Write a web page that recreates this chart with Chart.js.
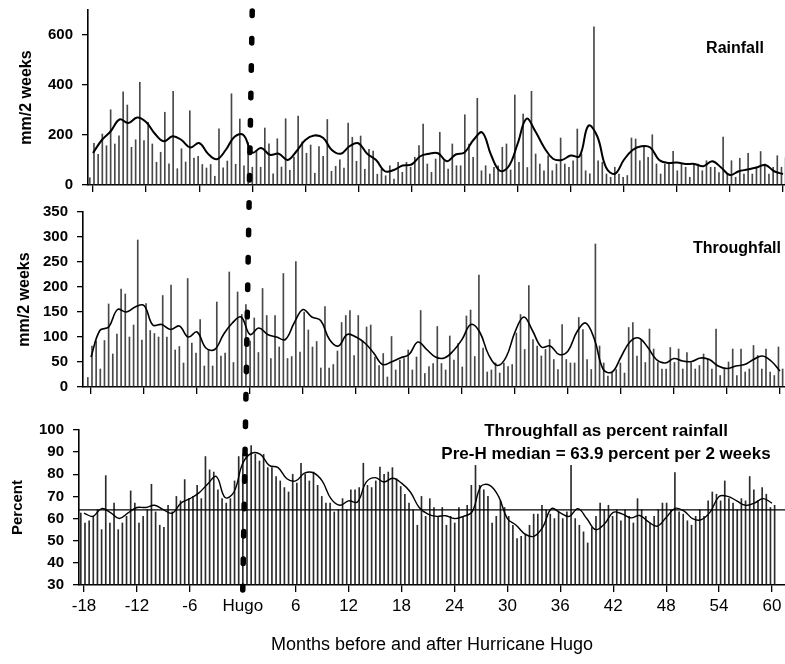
<!DOCTYPE html>
<html><head><meta charset="utf-8">
<script src="https://cdn.jsdelivr.net/npm/chart.js@4.4.1/dist/chart.umd.min.js"></script>
<style>
html,body{margin:0;padding:0;background:#fff;}
#wrap{position:relative;width:785px;height:664px;overflow:hidden;}
canvas{position:absolute;left:0;top:0;}
</style></head><body>
<div id="wrap">
<canvas id="c1" width="785" height="664"></canvas>
<canvas id="c2" width="785" height="664"></canvas>
<canvas id="c3" width="785" height="664"></canvas>
</div>
<script>
// ---------- data ----------
const monthTicks = [-18,-12,-6,0,6,12,18,24,30,36,42,48,54,60];
const hurricaneMonth = 0;
const hurricaneLabel = 'Hugo';
const firstPeriodMonth = -18.36;   // first 2-week sampling period
const periodStep = 0.471;          // months between sampling periods

const rainfall = [
 29,167,123,204,157,301,164,197,373,320,
 151,181,411,178,251,164,91,131,291,85,
 375,65,145,92,297,108,115,82,68,82,
 35,225,69,96,365,83,264,77,170,71,
 138,71,228,165,45,185,72,265,59,112,
 276,173,127,160,47,154,115,262,55,75,
 101,68,248,191,95,196,63,143,136,43,
 63,37,77,24,91,51,91,71,111,158,
 244,84,51,104,211,97,64,164,77,77,
 281,164,111,347,57,77,44,71,77,151,
 164,60,360,91,284,70,375,124,84,57,
 117,57,84,188,84,71,97,224,124,57,
 45,633,97,91,44,31,71,44,31,38,
 188,184,97,151,111,201,84,44,84,91,
 135,57,84,71,31,84,84,57,97,71,
 71,50,192,44,97,31,107,44,127,44,
 71,134,84,44,71,117,71,110
];
const throughfall = [
 19,82,92,36,93,166,66,106,196,186,
 100,124,294,94,167,113,107,100,183,100,
 204,74,81,48,217,88,68,135,42,75,
 42,170,62,68,230,49,190,145,165,92,
 138,69,197,143,57,143,80,227,57,61,
 251,70,150,114,80,91,38,161,38,45,
 72,129,143,153,63,143,93,120,124,60,
 43,67,20,101,34,54,57,74,34,60,
 153,27,
 41,47,121,47,34,102,54,87,40,142,
 154,61,224,78,30,34,48,28,48,41,
 45,108,145,75,203,95,82,62,75,95,
 55,35,125,55,48,48,139,115,55,35,
 286,82,48,22,28,35,48,28,119,129,
 62,95,49,116,76,49,36,36,79,49,
 76,36,69,49,36,43,66,56,36,116,
 23,36,50,76,23,76,30,36,83,63,
 36,76,30,23,80,36
];
const percentOfRain = [
 62.5,58,59,61,64,55,79.4,58,67,55,
 58,61,72.5,67,58,61,64,75.5,63,57,
 56,66,63,70,68,77.6,69,70,75,69,
 88,82,81,73,69,67,69,77,88,89,
 89.5,93,89,86,89,83,83,79,77,74,
 72,80,76,85,80,77,81,75,70,67,
 67,63,64,69,64,73,73,74,85,75,
 74,
 77,83.2,80,81,83,78,74.5,71,67,64,
 57,70,61,69,65,61,65,57,61,58,
 65,61,66,75,84,75,73,70,58,61,
 68,65,61,57,51,52,53,57,62,62,
 66,64,62,60,63,60,63,84,60,57,
 54,49,56,61,67,64,66,61,64,59,
 64,61,58,69,64,61,58,61,64,67,
 67,64,80.8,63,62,59,57,61,64,61,
 68,72,71,68,77,69,67,64,69,68,
 79,73,68,74,71,65,66
];

// smoothed curves, one value per month from -18 to 60
const smoothMonths = [
 -18,-17,-16,-15,-14,-13,-12,-11,-10,-9,
 -8,-7,-6,-5,-4,-3,-2,-1,0,1,
 2,3,4,5,6,7,8,9,10,11,
 12,13,14,15,16,17,18,19,20,21,
 22,23,24,25,26,27,28,29,30,31,
 32,33,34,35,36,37,38,39,40,41,
 42,43,44,45,46,47,48,49,50,51,
 52,53,54,55,56,57,58,59,60
];
const rainSmooth = [
 128,180,215,262,248,270,252,205,175,195,
 180,150,168,125,103,140,193,200,130,148,
 121,125,100,135,180,198,189,140,125,155,
 167,125,100,55,60,78,82,115,125,127,
 95,122,130,180,210,120,57,75,165,265,
 215,150,105,100,118,115,237,195,70,45,
 100,140,155,150,100,88,90,84,84,75,
 95,70,40,55,62,70,80,55,44
];
const throughSmooth = [
 60,113,120,155,150,160,163,124,125,115,
 122,100,110,78,75,105,128,140,105,118,
 105,100,95,128,155,140,133,95,82,105,
 100,88,68,45,50,58,65,90,75,60,
 58,72,95,125,110,65,43,60,110,140,
 112,80,82,65,72,110,128,95,35,30,
 60,90,98,80,55,48,57,52,51,58,
 55,42,37,42,45,55,62,52,32
];
const percentSmooth = [
 62.5,61,64.5,62.7,60,62.6,65,65,66,64,
 62.4,67,69,71.5,75.5,79,69.5,72,85,89.5,
 89,84,83,78,77,80.5,80.7,77,69,66,
 68,67.5,76.5,78.5,76.5,78.2,76,72,65,62,
 61,61.3,60,61,63,74.5,75,70,60,57,
 53,52,56,64.5,62.6,61,64.5,60,55,57.5,
 62.8,62.1,60.3,61.4,58.5,56.6,60.5,64.6,63.5,60,
 59.5,63,70,70,68,66,67,69,67
];
const preHMedian = 63.9;

const rainTicks = [0,200,400,600];
const throughTicks = [0,50,100,150,200,250,300,350];
const percentTicks = [30,40,50,60,70,80,90,100];

// ---------- drawing ----------
const FONT = "'Liberation Sans', Arial, Helvetica, sans-serif";
const periodMonths = rainfall.map((_, i) => firstPeriodMonth + i * periodStep);
const pts = (xs, ys) => ys.map((y, i) => ({x: xs[i], y}));
let topChart = null;

function makePanel(id, p) {
  const xScale = {
    type: 'linear', min: p.xMin, max: p.xMax, offset: false,
    afterBuildTicks: s => { s.ticks = monthTicks.map(v => ({value: v})); },
    afterFit: s => { s.height = p.xHeight; s.paddingLeft = 0; s.paddingRight = 0; },
    grid: {display: true, drawOnChartArea: false, drawTicks: true, tickLength: 7, color: '#000', lineWidth: 1.3, offset: false},
    border: {display: true, color: '#000', width: 1.6},
    ticks: p.xLabels ? {
      display: true, color: '#000', padding: 4, maxRotation: 0, autoSkip: false,
      font: {family: FONT, size: 17},
      callback: v => (v === hurricaneMonth ? hurricaneLabel : String(v))
    } : {display: false},
    title: p.xTitle ? {display: true, text: p.xTitle, color: '#000', font: {family: FONT, size: 18}, padding: {top: 4, bottom: 8}} : {display: false}
  };
  const yScale = {
    type: 'linear', min: p.yMin, max: p.yMax,
    afterBuildTicks: s => { s.ticks = p.yTicks.map(v => ({value: v})); },
    afterFit: s => { s.width = p.left; s.paddingTop = 0; s.paddingBottom = 0; },
    grid: {display: true, drawOnChartArea: false, drawTicks: true, tickLength: 6, color: '#000', lineWidth: 1.3},
    border: {display: true, color: '#000', width: 1.6},
    ticks: {color: '#000', padding: 9, font: {family: FONT, size: 15, weight: 'bold'}},
    title: {display: true, text: p.yTitle, color: '#000', font: {family: FONT, size: p.yTitleSize, weight: 'bold'}, padding: {top: p.yTitlePad, bottom: 0}}
  };
  return new Chart(document.getElementById(id), {
    type: 'bar',
    data: {datasets: [
      {type: 'bar', data: pts(periodMonths, p.bars), backgroundColor: p.barColor, borderWidth: 0, barThickness: 1, order: 2},
      {type: 'line', data: pts(smoothMonths, p.smooth), borderColor: '#000', borderWidth: p.lineWidth, pointRadius: 0, tension: 0.4, fill: false, order: 1}
    ]},
    options: {
      responsive: false, animation: false, devicePixelRatio: 1, events: [],
      layout: {padding: {left: 0, right: 0, top: p.top, bottom: p.padBottom}},
      plugins: {legend: {display: false}, tooltip: {enabled: false}},
      scales: {x: xScale, y: yScale}
    },
    plugins: p.plugins || []
  });
}

function label(ctx, text, x, y, size, weight, align) {
  ctx.save();
  ctx.fillStyle = '#000';
  ctx.font = (weight || 'bold') + ' ' + size + 'px ' + FONT;
  ctx.textAlign = align || 'center';
  ctx.textBaseline = 'alphabetic';
  ctx.fillText(text, x, y);
  ctx.restore();
}

topChart = makePanel('c1', {
  bars: rainfall, smooth: rainSmooth, barColor: 'rgba(40,40,40,0.85)', lineWidth: 2,
  xMin: -18.565, xMax: 60.226, left: 88, top: 10, xHeight: 10, padBottom: 469,
  yMin: 0, yMax: 700, yTicks: rainTicks, yTitle: 'mm/2 weeks', yTitleSize: 16, yTitlePad: 17,
  xLabels: false,
  plugins: [{id: 'lab1', afterDraw: c => label(c.ctx, 'Rainfall', 735, 53, 16)}]
});

makePanel('c2', {
  bars: throughfall, smooth: throughSmooth, barColor: 'rgba(40,40,40,0.85)', lineWidth: 1.6,
  xMin: -18.906, xMax: 60.566, left: 83, top: 212, xHeight: 10, padBottom: 267,
  yMin: 0, yMax: 350, yTicks: throughTicks, yTitle: 'mm/2 weeks', yTitleSize: 16, yTitlePad: 15,
  xLabels: false,
  plugins: [{id: 'lab2', afterDraw: c => label(c.ctx, 'Throughfall', 737, 253, 16)}]
});

makePanel('c3', {
  bars: percentOfRain, smooth: percentSmooth, barColor: 'rgba(20,20,20,0.9)', lineWidth: 1.4,
  xMin: -18.567, xMax: 61.474, left: 79, top: 430, xHeight: 79, padBottom: 0,
  yMin: 30, yMax: 100, yTicks: percentTicks, yTitle: 'Percent', yTitleSize: 15, yTitlePad: 9,
  xLabels: true, xTitle: 'Months before and after Hurricane Hugo',
  plugins: [{
    id: 'lab3',
    afterDatasetsDraw: c => {
      const ctx = c.ctx, a = c.chartArea, yy = c.scales.y.getPixelForValue(preHMedian);
      ctx.save();
      ctx.strokeStyle = '#000'; ctx.lineWidth = 1.3;
      ctx.beginPath(); ctx.moveTo(a.left, yy); ctx.lineTo(a.right, yy); ctx.stroke();
      ctx.restore();
    },
    afterDraw: c => {
      const ctx = c.ctx;
      label(ctx, 'Throughfall as percent rainfall', 606, 436, 17);
      label(ctx, 'Pre-H median = ' + preHMedian + ' percent per 2 weeks', 606, 459, 17);
      // Hurricane Hugo marker spanning all three panels
      const xBot = c.scales.x.getPixelForValue(hurricaneMonth);
      const yBot = c.chartArea.bottom + 5;
      const xTop = topChart ? topChart.scales.x.getPixelForValue(hurricaneMonth) : xBot;
      const yTop = topChart ? topChart.chartArea.top + 1 : 11;
      ctx.save();
      ctx.strokeStyle = '#000'; ctx.lineWidth = 5.5; ctx.lineCap = 'round';
      ctx.setLineDash([4.5, 22.9]);
      ctx.beginPath(); ctx.moveTo(xTop, yTop); ctx.lineTo(xBot, yBot); ctx.stroke();
      ctx.restore();
    }
  }]
});
</script>
</body></html>
